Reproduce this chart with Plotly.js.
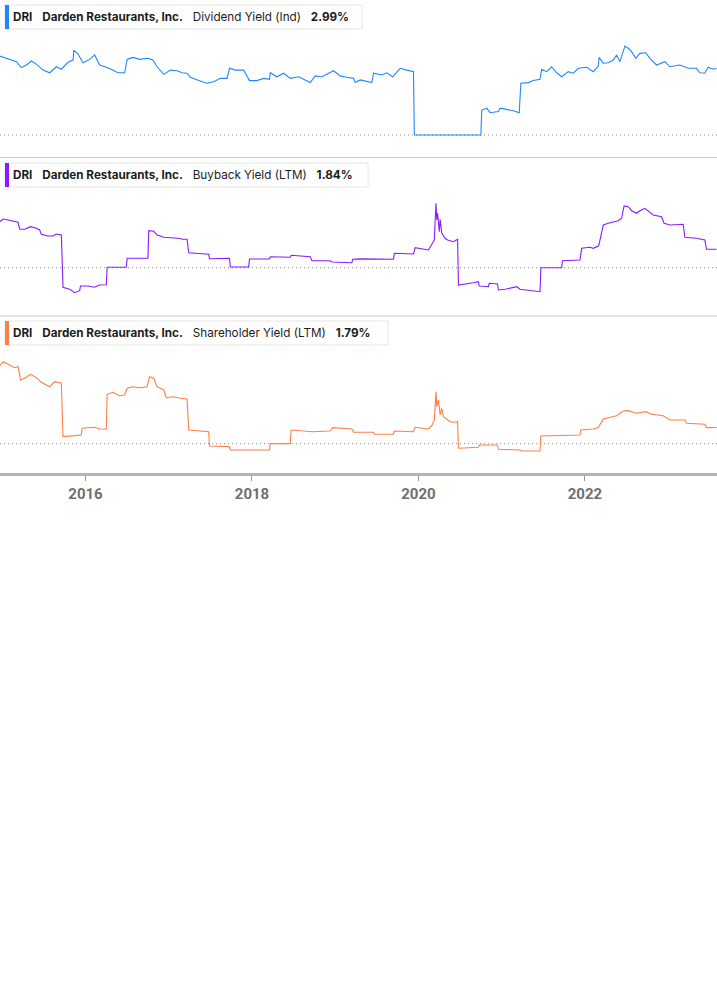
<!DOCTYPE html>
<html>
<head>
<meta charset="utf-8">
<script src="https://cdn.plot.ly/plotly-3.0.1.min.js"></script>
<style>
html,body{margin:0;padding:0;background:#fff;}
#chart{width:717px;height:1005px;}
</style>
</head>
<body>
<div id="chart"></div>
<script>
// x values are decimal years
const divYears = [2014.97,2015.05,2015.17,2015.23,2015.29,2015.35,2015.41,2015.49,2015.57,2015.65,2015.71,2015.79,2015.85,2015.86,2015.91,2015.97,2016.05,2016.11,2016.17,2016.25,2016.31,2016.39,2016.47,2016.50,2016.57,2016.65,2016.75,2016.81,2016.86,2016.94,2017.02,2017.10,2017.16,2017.22,2017.26,2017.36,2017.46,2017.54,2017.62,2017.70,2017.73,2017.80,2017.90,2017.97,2018.06,2018.14,2018.21,2018.22,2018.30,2018.38,2018.46,2018.56,2018.62,2018.70,2018.76,2018.84,2018.98,2019.06,2019.14,2019.22,2019.24,2019.30,2019.44,2019.46,2019.56,2019.62,2019.69,2019.78,2019.86,2019.94,2019.95,2020.75,2020.76,2020.82,2020.86,2020.96,2020.98,2021.06,2021.14,2021.21,2021.23,2021.32,2021.38,2021.46,2021.48,2021.54,2021.60,2021.66,2021.72,2021.80,2021.86,2021.92,2022.02,2022.10,2022.16,2022.17,2022.22,2022.28,2022.34,2022.38,2022.42,2022.48,2022.52,2022.56,2022.61,2022.66,2022.73,2022.78,2022.86,2022.96,2023.02,2023.14,2023.24,2023.34,2023.38,2023.44,2023.48,2023.54,2023.58];
const divValues = [3.54,3.44,3.29,3.02,3.14,3.32,3.18,2.91,2.79,3.06,2.95,3.26,3.36,3.81,3.63,3.24,3.39,3.59,3.14,3.04,2.95,2.79,2.79,3.39,3.48,3.39,3.44,3.36,3.06,2.72,2.91,2.88,2.79,2.77,2.59,2.44,2.32,2.39,2.54,2.54,2.99,2.91,2.91,2.44,2.44,2.54,2.50,2.79,2.61,2.77,2.54,2.61,2.50,2.35,2.65,2.61,2.88,2.65,2.59,2.54,2.35,2.47,2.35,2.77,2.69,2.79,2.61,2.99,2.91,2.84,0,0,1.12,1.20,1.00,1.05,1.20,1.15,1.09,1.00,2.32,2.35,2.44,2.50,2.95,2.84,3.06,2.79,2.61,2.84,2.77,2.99,3.04,2.84,3.09,3.48,3.22,3.24,3.36,3.59,3.29,3.99,3.89,3.74,3.44,3.66,3.69,3.44,3.14,3.29,3.06,3.14,2.99,2.99,2.79,2.77,3.04,2.95,2.99];

const buyYears = [2014.97,2015.01,2015.07,2015.15,2015.19,2015.21,2015.27,2015.34,2015.41,2015.45,2015.47,2015.55,2015.61,2015.65,2015.71,2015.73,2015.81,2015.87,2015.93,2015.94,2016.03,2016.11,2016.17,2016.25,2016.26,2016.49,2016.50,2016.75,2016.76,2016.82,2016.86,2016.94,2017.02,2017.11,2017.17,2017.22,2017.24,2017.38,2017.48,2017.49,2017.73,2017.74,2017.96,2017.97,2018.21,2018.22,2018.38,2018.46,2018.47,2018.70,2018.72,2018.94,2018.96,2019.20,2019.21,2019.30,2019.70,2019.71,2019.94,2019.96,2020.12,2020.16,2020.19,2020.21,2020.22,2020.23,2020.25,2020.26,2020.28,2020.32,2020.35,2020.42,2020.47,2020.48,2020.58,2020.66,2020.72,2020.73,2020.84,2020.85,2020.95,2020.96,2021.04,2021.18,2021.22,2021.34,2021.46,2021.47,2021.72,2021.73,2021.94,2021.96,2022.06,2022.10,2022.16,2022.17,2022.22,2022.28,2022.40,2022.44,2022.47,2022.52,2022.56,2022.62,2022.66,2022.72,2022.77,2022.82,2022.92,2022.95,2023.02,2023.18,2023.20,2023.34,2023.44,2023.46,2023.58];
const buyValues = [4.60,4.87,4.77,4.60,4.54,3.84,3.84,4.10,3.94,3.77,3.34,3.17,3.17,3.37,3.27,-1.96,-2.16,-2.50,-2.30,-1.83,-1.83,-1.96,-1.73,-1.70,0.04,0.04,0.94,0.94,3.70,3.64,3.27,3.04,3.00,2.94,2.84,2.84,1.50,1.44,1.34,0.90,0.94,0.07,0.07,0.87,0.87,1.10,1.04,1.04,1.24,1.10,0.70,0.70,0.57,0.50,0.84,0.88,0.84,1.44,1.37,2.00,1.77,2.27,2.77,6.44,4.77,5.44,3.60,4.84,3.44,2.94,2.77,2.60,2.84,-1.73,-1.63,-1.50,-1.40,-1.83,-1.90,-1.56,-1.63,-2.23,-2.16,-1.90,-2.16,-2.30,-2.40,0.00,0.00,0.70,0.77,1.94,2.04,1.94,2.17,2.37,4.27,4.44,4.70,4.94,6.17,6.10,5.70,5.44,5.70,5.94,5.60,5.27,5.10,4.44,4.27,4.34,3.04,2.94,2.77,1.84,1.84];

const shYears = [2014.97,2015.01,2015.07,2015.15,2015.19,2015.22,2015.27,2015.34,2015.41,2015.47,2015.57,2015.63,2015.71,2015.73,2015.87,2015.95,2015.96,2016.11,2016.17,2016.25,2016.26,2016.33,2016.41,2016.47,2016.50,2016.57,2016.65,2016.74,2016.77,2016.82,2016.86,2016.94,2016.97,2017.06,2017.14,2017.22,2017.24,2017.48,2017.49,2017.73,2017.74,2018.21,2018.22,2018.46,2018.47,2018.70,2018.72,2018.94,2018.97,2019.20,2019.22,2019.46,2019.47,2019.70,2019.71,2019.94,2019.96,2020.12,2020.16,2020.19,2020.21,2020.22,2020.24,2020.26,2020.28,2020.30,2020.34,2020.38,2020.42,2020.47,2020.48,2020.72,2020.73,2020.95,2020.96,2021.22,2021.23,2021.46,2021.47,2021.70,2021.94,2021.95,2022.10,2022.16,2022.22,2022.28,2022.38,2022.46,2022.52,2022.62,2022.68,2022.73,2022.80,2022.94,2023.02,2023.20,2023.22,2023.44,2023.46,2023.58];
const shValues = [8.67,9.11,8.82,8.44,8.56,7.08,7.27,7.71,7.33,6.82,6.33,6.89,6.71,0.78,0.89,0.97,1.71,1.82,1.63,1.60,5.49,5.71,5.33,5.41,6.16,6.33,6.22,6.33,7.44,7.27,6.33,5.97,5.11,5.22,5.04,4.97,1.52,1.33,-0.26,-0.33,-0.70,-0.70,0.00,0.00,1.52,1.41,1.33,1.41,1.78,1.63,1.27,1.27,1.04,1.04,1.41,1.33,1.82,1.63,2.00,2.63,5.78,4.11,4.86,3.19,3.93,3.00,2.74,2.44,2.38,2.44,-0.51,-0.40,-0.14,-0.14,-0.62,-0.70,-0.81,-0.81,0.86,0.89,0.97,1.52,1.63,1.78,2.74,2.89,3.11,3.63,3.67,3.38,3.49,3.56,3.27,3.11,2.63,2.63,2.27,2.16,1.78,1.79];

const tickYears = [2016, 2018, 2020, 2022];
const tickLabels = ["2016", "2018", "2020", "2022"];

const ticker = "DRI";
const company = "Darden Restaurants, Inc.";
const metricNames = ["Dividend Yield (Ind)", "Buyback Yield (LTM)", "Shareholder Yield (LTM)"];
const lastValues = ["2.99%", "1.84%", "1.79%"];
const colors = ["#1f87ff", "#8a1cff", "#ff7f45"];

const W = 717, PH = 473; // plot area height in px
function py(pix){ return (PH - pix) / PH; }

const traces = [
  {x: divYears, y: divValues, xaxis: 'x', yaxis: 'y', type: 'scatter', mode: 'lines', line: {color: colors[0], width: 1.1}, hoverinfo: 'skip'},
  {x: buyYears, y: buyValues, xaxis: 'x', yaxis: 'y2', type: 'scatter', mode: 'lines', line: {color: colors[1], width: 1.1}, hoverinfo: 'skip'},
  {x: shYears, y: shValues, xaxis: 'x', yaxis: 'y3', type: 'scatter', mode: 'lines', line: {color: colors[2], width: 1.1}, hoverinfo: 'skip'}
];

const hiddenY = {showticklabels: false, showgrid: false, zeroline: false, showline: false, ticks: '', fixedrange: true};

// legend boxes: [top px, bottom px, right px]
const boxes = [[5, 29, 362], [163, 187, 368], [321, 345, 388]];
const shapes = [];
const annotations = [];
boxes.forEach((b, i) => {
  shapes.push({type: 'rect', xref: 'paper', yref: 'paper', x0: 5 / W, x1: b[2] / W, y0: py(b[1]), y1: py(b[0]),
    line: {color: '#e6e6e6', width: 1}, fillcolor: '#ffffff', layer: 'above'});
  shapes.push({type: 'rect', xref: 'paper', yref: 'paper', x0: 5 / W, x1: 9 / W, y0: py(b[1]), y1: py(b[0]),
    line: {width: 0}, fillcolor: colors[i], layer: 'above'});
  annotations.push({xref: 'paper', yref: 'paper', x: 11 / W, y: py((b[0] + b[1]) / 2), xanchor: 'left', yanchor: 'middle',
    showarrow: false, align: 'left',
    text: '<b>' + ticker + '</b>&nbsp;&nbsp;&nbsp;<b>' + company + '</b>&nbsp;&nbsp;&nbsp;' + metricNames[i] + '&nbsp;&nbsp;&nbsp;<b>' + lastValues[i] + '</b>',
    font: {family: 'Inter, Roboto, sans-serif', size: 11.7, color: '#1c1c1c'}});
});
// dotted zero lines
['y', 'y2', 'y3'].forEach(ax => {
  shapes.push({type: 'line', xref: 'paper', yref: ax, x0: 0, x1: 1, y0: 0, y1: 0,
    line: {color: '#8a8a8a', width: 1, dash: '1px,3px'}, layer: 'below'});
});
// panel separators
[157.5, 316].forEach(p => {
  shapes.push({type: 'line', xref: 'paper', yref: 'paper', x0: 0, x1: 1, y0: py(p), y1: py(p),
    line: {color: '#c8c8c8', width: 1.2}, layer: 'above'});
});

const layout = {
  width: 717, height: 1005,
  margin: {l: 0, r: 0, t: 0, b: 1005 - PH, pad: 0},
  paper_bgcolor: '#ffffff', plot_bgcolor: '#ffffff',
  showlegend: false,
  xaxis: {
    anchor: 'y3', range: [2014.973, 2023.586], tickmode: 'array', tickvals: tickYears, ticktext: tickLabels,
    ticks: 'outside', ticklen: 5, tickwidth: 1, tickcolor: '#9a9a9a',
    showline: true, linecolor: '#b5b5b5', linewidth: 3, showgrid: false, zeroline: false,
    tickfont: {family: 'Liberation Sans Narrow, Roboto, sans-serif', size: 15, color: '#707070', weight: 'bold'},
    fixedrange: true
  },
  yaxis: Object.assign({domain: [py(157), 1], range: [-0.987, 6.054]}, hiddenY),
  yaxis2: Object.assign({domain: [py(316), py(158)], range: [-4.83, 10.97]}, hiddenY),
  yaxis3: Object.assign({domain: [0, py(316)], range: [-3.26, 14.19]}, hiddenY),
  shapes: shapes,
  annotations: annotations
};

Plotly.newPlot('chart', traces, layout, {displayModeBar: false, staticPlot: true});
</script>
</body>
</html>
